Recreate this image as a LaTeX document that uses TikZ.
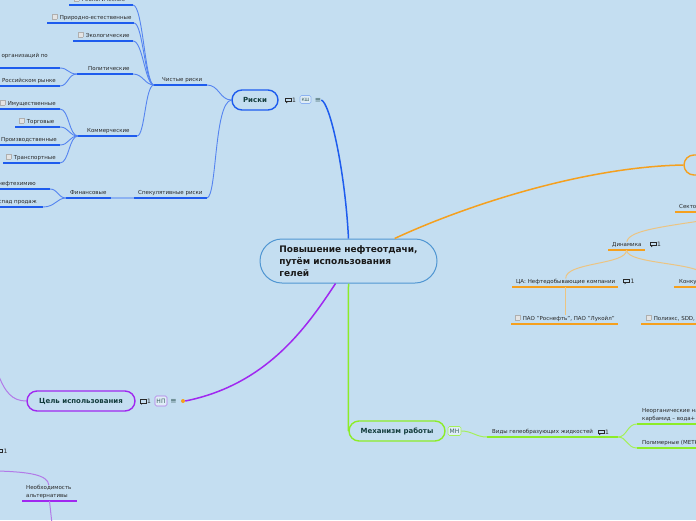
\documentclass[tikz,border=0pt]{standalone}
\usepackage{fontspec}
\setmainfont{DejaVu Sans}
\definecolor{bg}{RGB}{196,222,241}
\definecolor{bl}{RGB}{30,92,238}
\definecolor{bll}{RGB}{85,132,240}
\definecolor{blx}{RGB}{140,178,242}
\definecolor{orn}{RGB}{245,160,30}
\definecolor{ornl}{RGB}{236,196,130}
\definecolor{grn}{RGB}{140,236,40}
\definecolor{grnl}{RGB}{165,240,90}
\definecolor{prp}{RGB}{160,40,240}
\definecolor{prpl}{RGB}{178,122,232}
\definecolor{cen}{RGB}{80,150,210}
\definecolor{ink}{RGB}{40,40,40}
\definecolor{dk}{RGB}{18,60,60}
\definecolor{eqc}{RGB}{60,95,95}
\definecolor{cbf}{RGB}{228,228,228}
\definecolor{cbb}{RGB}{175,175,175}
\newcommand\mmchk{{\setlength\fboxsep{0pt}\setlength\fboxrule{0.3pt}\fcolorbox{cbb}{cbf}{\rule{0pt}{4.5pt}\hspace{4.5pt}}}\hspace{2.5pt}}
\newcommand\mmlab[8]{%
 \coordinate (#1L) at (#2,#4);
 \coordinate (#1R) at (#3,#4);
 \coordinate (#1M) at ({(#2+#3)/2},#4);
 \draw[#5] (#1L) -- (#1R);
 \node[txt,#6] (#1) at (#7,#4-4) {#8};}
\begin{document}
\begin{tikzpicture}[x=1pt,y=-1pt,
  txt/.style={inner sep=0pt, text=ink, font=\fontsize{5.5}{7.5}\selectfont},
  ulB/.style={bl, line width=1.8pt},
  ulO/.style={orn, line width=1.8pt},
  ulG/.style={grn, line width=1.8pt},
  ulP/.style={prp, line width=1.8pt},
  subB/.style={bll, line width=0.9pt},
  subO/.style={ornl, line width=1pt},
  subG/.style={grnl, line width=1pt},
  subP/.style={prpl, line width=1pt},
  topic/.style={rectangle, rounded corners=10pt, minimum height=20pt, line width=1.4pt,
     fill=bg, text=dk, font=\fontsize{7}{8}\selectfont\bfseries},
  tagbox/.style={rectangle, rounded corners=1.5pt, inner sep=0pt, line width=0.6pt,
     fill=bg!55!white, text=eqc},
  eqs/.style={inner sep=0pt, text=eqc, font=\fontsize{7.5}{8}\selectfont},
  cmt/.pic={
    \draw[line width=0.9pt, ink] (-3,-1.8) rectangle (3,1.6);
    \fill[ink] (-2,1.6) -- (0,1.6) -- (-2,3.4) -- cycle;
    \node[txt, anchor=west, font=\fontsize{6}{7}\selectfont] (-n) at (4,0) {1};
  }]
\fill[bg] (0,0) rectangle (696,520);
\useasboundingbox (0,0) rectangle (696,520);

% ---------- central node ----------
\node[rectangle, rounded corners=22pt, minimum width=177pt, minimum height=44pt,
  draw=cen, line width=1pt, fill=bg, text=black!90, align=left,
  font=\fontsize{9}{12}\selectfont\bfseries] (C) at (348.5,261)
  {Повышение нефтеотдачи,\\путём использования\\гелей};

% ---------- Риски (blue) ----------
\node[topic, draw=bl, minimum width=46pt] (R) at (255,100) {Риски};
\pic (cm1) at (288,100) {cmt};
\node[tagbox, draw=blx, minimum width=11pt, minimum height=8pt, font=\fontsize{4.5}{5}\selectfont] (ksh) at (305.5,99.5) {КШ};
\node[eqs] (eq1) at (318,100) {≡};
\draw[bl, line width=1.5pt] (eq1.east) .. controls (330,103) and (345,170) .. (C.north);

\mmlab{pure}{154}{207}{85}{ulB}{anchor=base west}{162}{Чистые риски}
\mmlab{spec}{134}{207}{198}{ulB}{anchor=base west}{138}{Спекулятивные риски}
\mmlab{geo}{69}{133}{5}{ulB}{anchor=base west}{74}{\mmchk Геологические}
\mmlab{nat}{47}{134}{23}{ulB}{anchor=base west}{52}{\mmchk Природно-естественные}
\mmlab{eco}{73}{133}{41}{ulB}{anchor=base west}{78}{\mmchk Экологические}
\mmlab{pol}{77}{133}{74}{ulB}{anchor=base west}{88}{Политические}
\mmlab{polA}{-10}{60}{68}{ulB}{anchor=base east, yshift=7pt}{48}{и организаций по}
\mmlab{polB}{-10}{60}{86}{ulB}{anchor=base east}{56}{на Российском рынке}
\mmlab{com}{78}{137}{136}{ulB}{anchor=base west}{87}{Коммерческие}
\mmlab{comA}{-10}{60}{109}{ulB}{anchor=base west}{0}{\mmchk Имущественные}
\mmlab{comB}{15}{60}{127}{ulB}{anchor=base west}{19}{\mmchk Торговые}
\mmlab{comC}{-10}{60}{145}{ulB}{anchor=base west}{1}{Производственные}
\mmlab{comD}{3}{60}{163}{ulB}{anchor=base west}{6}{\mmchk Транспортные}
\mmlab{fin}{66}{111}{198}{ulB}{anchor=base west}{70}{Финансовые}
\mmlab{finA}{-10}{50}{189}{ulB}{anchor=base east}{36}{нефтехимию}
\mmlab{finB}{-10}{43}{207}{ulB}{anchor=base east}{37}{спад продаж}

\draw[subB] (R.west) .. controls (220,100) and (219,85) .. (pureR);
\draw[subB] (R.west) .. controls (214,103) and (217,196) .. (specR);
\draw[subB] (pureL) .. controls (145,85) and (143,5) .. (geoR);
\draw[subB] (pureL) .. controls (145,85) and (143,23) .. (natR);
\draw[subB] (pureL) .. controls (145,85) and (143,41) .. (ecoR);
\draw[subB] (pureL) .. controls (145,85) and (143,74) .. (polR);
\draw[subB] (pureL) .. controls (145,85) and (145,136) .. (comR);
\draw[subB] (polL) .. controls (68,74) and (68,68) .. (polAR);
\draw[subB] (polL) .. controls (68,74) and (68,86) .. (polBR);
\draw[subB] (comL) .. controls (69,136) and (69,109) .. (comAR);
\draw[subB] (comL) .. controls (69,136) and (69,127) .. (comBR);
\draw[subB] (comL) .. controls (69,136) and (69,145) .. (comCR);
\draw[subB] (comL) .. controls (69,136) and (69,163) .. (comDR);
\draw[blx, line width=1.8pt] (specL) -- (finR);
\draw[subB] (finL) .. controls (58,198) and (58,189) .. (finAR);
\draw[subB] (finL) .. controls (57,198) and (55,207) .. (finBR);

% ---------- orange branch ----------
\node[topic, draw=orn, minimum width=72pt] (O) at (720,165) {};
\draw[orn, line width=1.5pt] (C.26) .. controls (460,208) and (580,167) .. (O.west);
\mmlab{sec}{675}{760}{212}{ulO}{anchor=base west}{679}{Секто}
\mmlab{dyn}{608}{645}{250}{ulO}{anchor=base west}{612}{Динамика}
\pic (cm2) at (653,244) {cmt};
\mmlab{ca}{512}{618}{287}{ulO}{anchor=base west}{516}{ЦА: Нефтедобывающие компании}
\pic (cm3) at (626.5,281) {cmt};
\mmlab{kon}{674}{760}{287}{ulO}{anchor=base west}{679}{Конку}
\mmlab{pao}{511}{618}{324}{ulO}{anchor=base west}{515}{\mmchk ПАО "Роснефть", ПАО "Лукойл"}
\mmlab{plx}{641}{760}{324}{ulO}{anchor=base west}{646}{\mmchk Полиэкс, SDD,}
\coordinate (secB) at (740,215);
\coordinate (konT) at (705,277);
\draw[subO] (dyn.north) .. controls (629,229) and (670,226) .. (secB);
\draw[subO] (dynM) .. controls (627,265) and (565,262) .. (ca.north);
\draw[subO] (dynM) .. controls (627,265) and (705,262) .. (konT);
\draw[subO] (caM) -- (caM |- pao.north);

% ---------- green branch ----------
\node[topic, draw=grn, minimum width=96pt] (M) at (397,431) {Механизм работы};
\node[tagbox, draw=grnl, minimum width=13pt, minimum height=9pt, font=\fontsize{6}{7}\selectfont] (mn) at (454.5,431) {МН};
\draw[grn, line width=1.5pt] (C.south) -- (M.west);
\mmlab{vid}{487}{618}{437}{ulG}{anchor=base west}{492}{Виды гелеобразующих жидкостей}
\pic (cm4) at (601,432) {cmt};
\mmlab{ino}{637}{760}{424}{ulG}{anchor=south west, align=left, yshift=-1.5pt}{642}{Неорганические на\\карбамид – вода+ ...}
\mmlab{plm}{637}{760}{448}{ulG}{anchor=base west}{642}{Полимерные (МЕТК}
\draw[subG] (mn.east) .. controls (472,431) and (476,437) .. (vidL);
\draw[subG] (vidR) .. controls (627,437) and (627,424) .. (inoL);
\draw[subG] (vidR) .. controls (627,437) and (627,448) .. (plmL);

% ---------- purple branch ----------
\node[topic, draw=prp, minimum width=108pt] (P) at (81,401) {Цель использования};
\pic (cm5) at (143,401.5) {cmt};
\node[tagbox, draw=prpl, minimum width=12pt, minimum height=10pt, font=\fontsize{6}{7}\selectfont] (np) at (161,401) {НП};
\node[eqs] (eq2) at (173.5,401.5) {≡};
\node[circle, fill=orn, inner sep=0pt, minimum size=4pt] (pdot) at (183,401) {};
\draw[prp, line width=1.5pt] (C.240) .. controls (305,330) and (265,385) .. (pdot.east);
\coordinate (pOff) at (-2,374);
\draw[subP] (P.west) .. controls (12,401) and (5,392) .. (pOff);
\pic (cm6) at (-0.5,451) {cmt};
\mmlab{nec}{22}{77}{501}{ulP}{anchor=south west, align=left, yshift=-1.5pt}{26}{Необходимость\\альтернативы}
\coordinate (pOff2) at (-2,471);
\coordinate (necD) at (52,524);
\draw[subP] (pOff2) .. controls (30,472) and (48,475) .. (nec.north);
\draw[subP] (necM) -- (necD);
\end{tikzpicture}
\end{document}
